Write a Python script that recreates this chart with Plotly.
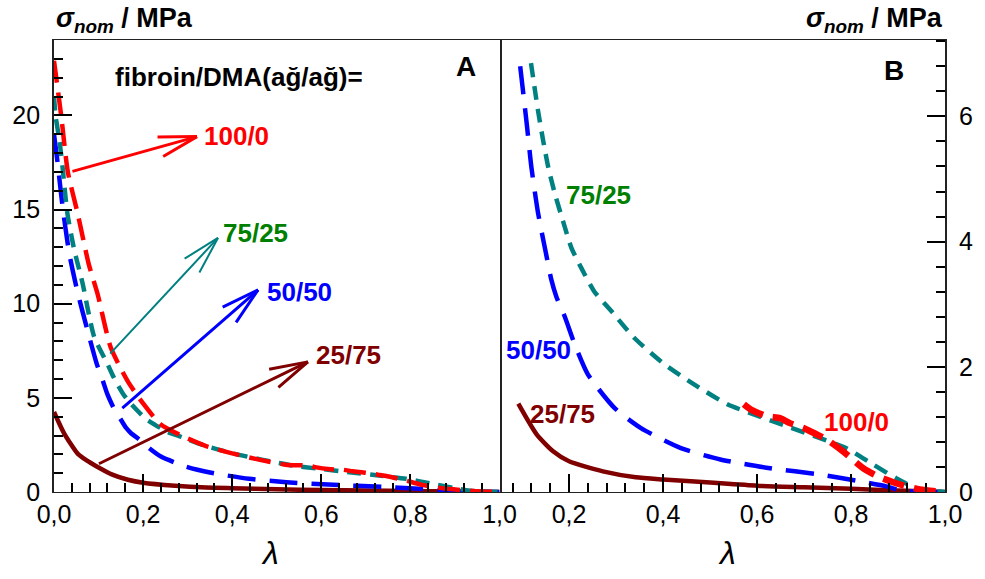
import math
import plotly.graph_objects as go

W, H = 985, 579
MARGIN = dict(l=53, r=36, t=40, b=87)
FONT = "Liberation Sans, Arial, sans-serif"

# Nominal stress (MPa) vs. lambda for each fibroin/DMA ratio
lam_100_0 = [0.000, 0.016, 0.031, 0.053, 0.078, 0.098, 0.127, 0.165, 0.200, 0.239,
             0.290, 0.340, 0.400, 0.460, 0.520, 0.572, 0.586, 0.621, 0.649, 0.670,
             0.700, 0.727, 0.748, 0.783, 0.826, 0.860, 0.896, 0.946, 1.000]
sig_100_0 = [22.9, 20.0, 17.0, 14.8, 12.1, 10.5, 7.7, 5.9, 4.7, 3.6,
             2.95, 2.45, 2.05, 1.72, 1.45, 1.40, 1.32, 1.21, 1.18, 1.10,
             1.02, 0.92, 0.84, 0.65, 0.38, 0.24, 0.14, 0.04, 0.0]

lam_75_25 = [0.000, 0.004, 0.012, 0.019, 0.030, 0.045, 0.064, 0.090, 0.119, 0.127,
             0.134, 0.145, 0.156, 0.170, 0.187, 0.205, 0.226, 0.254, 0.290, 0.339,
             0.403, 0.466, 0.537, 0.593, 0.663, 0.734, 0.790, 0.847, 0.896, 0.939, 1.000]
sig_75_25 = [21.0, 19.9, 18.7, 17.3, 14.8, 12.9, 11.1, 8.25, 6.85, 6.44,
             6.09, 5.61, 5.18, 4.76, 4.33, 3.90, 3.58, 3.20, 2.89, 2.46,
             2.04, 1.72, 1.40, 1.24, 1.05, 0.86, 0.70, 0.44, 0.22, 0.06, 0.0]

lam_50_50 = [0.000, 0.008, 0.019, 0.034, 0.053, 0.075, 0.096, 0.110, 0.120, 0.134,
             0.152, 0.162, 0.173, 0.191, 0.212, 0.240, 0.297, 0.353, 0.438, 0.522,
             0.628, 0.734, 0.819, 0.875, 0.910, 1.000]
sig_50_50 = [19.0, 17.5, 15.2, 12.7, 10.6, 8.6, 6.8, 5.88, 5.18, 4.46,
             3.77, 3.40, 3.12, 2.80, 2.36, 1.88, 1.34, 1.02, 0.70, 0.52,
             0.38, 0.28, 0.17, 0.09, 0.02, 0.0]

lam_25_75 = [0.000, 0.023, 0.053, 0.075, 0.092, 0.131, 0.166, 0.200, 0.272, 0.342,
             0.400, 0.500, 0.600, 0.700, 0.800, 0.900, 1.000]
sig_25_75 = [4.25, 3.10, 2.04, 1.65, 1.41, 0.92, 0.65, 0.49, 0.33, 0.235,
             0.20, 0.15, 0.10, 0.075, 0.05, 0.025, 0.0]

# first lambda shown in the magnified panel B
b_start = {"100/0": 0.57, "75/25": 0.119, "50/50": 0.096, "25/75": 0.092}

series = [
    # name, x, y, colour, label colour, dash, width A, width B
    ("25/75", lam_25_75, sig_25_75, "#800000", "#800000", "solid", 4.5, 4.5),
    ("50/50", lam_50_50, sig_50_50, "#0000FF", "#0000FF", "28px,14px", 4.5, 4.5),
    ("75/25", lam_75_25, sig_75_25, "#008080", "#008000", "14px,9px", 4.5, 4.5),
    ("100/0", lam_100_0, sig_100_0, "#FF0000", "#FF0000", "22px,10px", 4.5, 6.5),
]

x_range_a = [0.0, 1.0]
x_range_b = [0.052, 1.0]
y_range_a = [0.0, 24.0]
y_range_b = [0.0, 7.22]
x_dtick, x_minor = 0.2, 0.04
ya_dtick, ya_minor = 5, 1
yb_dtick, yb_minor = 2, 0.4

# arrows in panel A: tail on the curve, head next to the label
arrow_names = ["100/0", "75/25", "50/50", "25/75"]
arrow_tail_lam = [0.038, 0.123, 0.150, 0.0975]
arrow_tail_sig = [17.0, 7.27, 4.38, 1.46]
arrow_tip_lam = [0.321, 0.368, 0.458, 0.570]
arrow_tip_sig = [18.87, 13.49, 10.73, 6.91]
arrow_colors = ["#FF0000", "#008080", "#0000FF", "#800000"]
arrow_widths = [3, 2, 3, 3]
label_shift = [(5, 1), (3, 5), (7, -2), (6, 7)]

# labels placed directly in panel B
b_label_lam = [0.7376, 0.189, 0.0624, 0.113]
b_label_sig = [1.115, 4.74, 2.275, 1.25]

fig = go.Figure()

for name, xs, ys, col, _, dash, wa, wb in series:
    fig.add_trace(go.Scatter(x=xs, y=ys, mode="lines", xaxis="x", yaxis="y",
                             line=dict(color=col, width=wa, dash=dash, shape="spline",
                                       smoothing=0.6),
                             showlegend=False))
for name, xs, ys, col, _, dash, wa, wb in series:
    xb = [x for x in xs if x >= b_start[name]]
    yb = [y for x, y in zip(xs, ys) if x >= b_start[name]]
    fig.add_trace(go.Scatter(x=xb, y=yb, mode="lines", xaxis="x2", yaxis="y2",
                             line=dict(color=col, width=wb, dash=dash, shape="spline",
                                       smoothing=0.6),
                             showlegend=False))


def axis(dtick, mstep, lw, mirror=True):
    return dict(showline=True, linecolor="#222", linewidth=lw, mirror=mirror,
                showgrid=False, zeroline=False, dtick=dtick, layer="above traces",
                ticks="inside", ticklen=18, tickwidth=2, tickcolor="black",
                minor=dict(ticks="inside", ticklen=9, dtick=mstep))


fig.update_layout(
    width=W, height=H, margin=MARGIN, separators=", ", showlegend=False,
    paper_bgcolor="white", plot_bgcolor="white",
    font=dict(family=FONT, size=25, color="black"),
    xaxis=dict(domain=[0, 0.5], range=x_range_a, anchor="y", tickformat=".1f",
               **axis(x_dtick, x_minor, 1)),
    yaxis=dict(domain=[0, 1], range=y_range_a, anchor="x", ticksuffix=" ",
               **axis(ya_dtick, ya_minor, 2)),
    xaxis2=dict(domain=[0.5, 1], range=x_range_b, anchor="y2", tickformat=".1f",
                **axis(x_dtick, x_minor, 1)),
    yaxis2=dict(domain=[0, 1], range=y_range_b, anchor="x2", side="right",
                tickprefix=" ", **axis(yb_dtick, yb_minor, 2, mirror=False)),
)

ann = []
# axis headers and the lambda labels under each panel
for px_, anchor in ((0, "left"), (1, "right")):
    ann.append(dict(xref="paper", yref="paper", x=px_, y=1, xanchor=anchor,
                    yanchor="middle", yshift=20, showarrow=False,
                    text="<b><i>σ</i><sub><i>nom</i></sub> / MPa</b>",
                    font=dict(size=27)))
for px_ in (0.242, 0.7556):
    ann.append(dict(xref="paper", yref="paper", x=px_, y=-0.135, xanchor="center",
                    yanchor="middle", showarrow=False, text="<i>λ</i>",
                    font=dict(size=32)))
ann.append(dict(xref="x", yref="y", x=0.132, y=22.06, xanchor="left", yanchor="middle",
                showarrow=False, text="<b>fibroin/DMA(ağ/ağ)=</b>", font=dict(size=26)))
ann.append(dict(xref="x", yref="y", x=0.924, y=22.6, showarrow=False,
                text="<b>A</b>", font=dict(size=28)))
ann.append(dict(xref="x2", yref="y2", x=0.892, y=6.73, showarrow=False,
                text="<b>B</b>", font=dict(size=28)))

# pixel scale of panel A, used for the open arrow heads
plot_w = W - MARGIN["l"] - MARGIN["r"]
plot_h = H - MARGIN["t"] - MARGIN["b"]
sx = plot_w * 0.5 / (x_range_a[1] - x_range_a[0])
sy = plot_h / (y_range_a[1] - y_range_a[0])
head_len, head_ang = 41, math.radians(15)

label_col = {s[0]: s[4] for s in series}
for i, name in enumerate(arrow_names):
    col, w = arrow_colors[i], arrow_widths[i]
    tx, ty = arrow_tip_lam[i], arrow_tip_sig[i]
    ann.append(dict(xref="x", yref="y", axref="x", ayref="y",
                    x=tx, y=ty, ax=arrow_tail_lam[i], ay=arrow_tail_sig[i],
                    text="", showarrow=True, arrowhead=0, arrowwidth=w, arrowcolor=col,
                    standoff=0, startstandoff=0))
    dxp = (arrow_tail_lam[i] - tx) * sx
    dyp = -(arrow_tail_sig[i] - ty) * sy
    base = math.atan2(dyp, dxp)
    for sgn in (-1, 1):
        a = base + sgn * head_ang
        ann.append(dict(xref="x", yref="y", x=tx, y=ty,
                        ax=head_len * math.cos(a), ay=head_len * math.sin(a),
                        text="", showarrow=True, arrowhead=0, arrowwidth=w,
                        arrowcolor=col, standoff=0, startstandoff=0))
    xs_, ys_ = label_shift[i]
    ann.append(dict(xref="x", yref="y", x=tx, y=ty, xanchor="left", yanchor="middle",
                    xshift=xs_, yshift=ys_, showarrow=False,
                    text="<b>%s</b>" % name, font=dict(size=26, color=label_col[name])))

for i, name in enumerate(arrow_names):
    ann.append(dict(xref="x2", yref="y2", x=b_label_lam[i], y=b_label_sig[i],
                    xanchor="left", yanchor="middle", showarrow=False,
                    text="<b>%s</b>" % name, font=dict(size=26, color=label_col[name])))

fig.update_layout(annotations=ann)
fig.write_html("out.html")
